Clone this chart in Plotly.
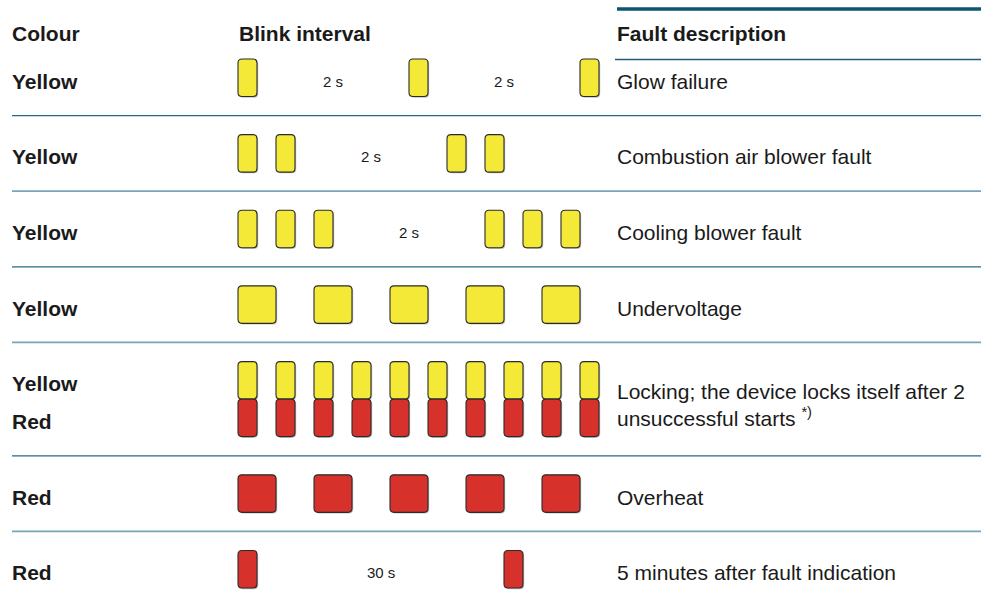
import plotly.graph_objects as go

# ---------------- data ----------------
headers = ["Colour", "Blink interval", "Fault description"]
row_colours = [["Yellow"], ["Yellow"], ["Yellow"], ["Yellow"], ["Yellow", "Red"], ["Red"], ["Red"]]
# blink start positions (in slots) and blink length (in slots) per row
blink_starts = [
    [0, 4.5, 9],
    [0, 1, 5.5, 6.5],
    [0, 1, 2, 6.5, 7.5, 8.5],
    [0, 2, 4, 6, 8],
    [0, 1, 2, 3, 4, 5, 6, 7, 8, 9],
    [0, 2, 4, 6, 8],
    [0, 7],
]
blink_lengths = [0.5, 0.5, 0.5, 1, 0.5, 1, 0.5]
pause_labels = [["2 s", "2 s"], ["2 s"], ["2 s"], [], [], [], ["30 s"]]
descriptions = [
    "Glow failure",
    "Combustion air blower fault",
    "Cooling blower fault",
    "Undervoltage",
    "Locking; the device locks itself after 2<br>unsuccessful starts <sup>*)</sup>",
    "Overheat",
    "5 minutes after fault indication",
]

# ---------------- styling / layout constants ----------------
W, H = 981, 600
FONT = "Liberation Sans, Arial, Helvetica, sans-serif"
TXT = "#1a1a1a"
FILL = {"Yellow": "#f3e936", "Red": "#d6322b"}
X_COLOUR, X_BLINK, X_DESC = 12, 238, 617
PAD = 2
SLOT = 38
BLOCK_H = 37.5
ROW_H = 75.6
TOP = 40
TEXT_DY = 3.5
LINE_DARK, LINE_LIGHT = "#2a6886", "#78a4b8"


def rrect(x0, y0, x1, y1, r=4):
    return (f"M {x0+r},{y0} L {x1-r},{y0} Q {x1},{y0} {x1},{y0+r} "
            f"L {x1},{y1-r} Q {x1},{y1} {x1-r},{y1} L {x0+r},{y1} "
            f"Q {x0},{y1} {x0},{y1-r} L {x0},{y0+r} Q {x0},{y0} {x0+r},{y0} Z")


shapes = []
annotations = []


def add_text(x, y, text, size=21, bold=False, xanchor="left"):
    annotations.append(dict(
        x=x - (PAD if xanchor == "left" else 0), y=y, xref="x", yref="y",
        text=f"<b>{text}</b>" if bold else text,
        showarrow=False, xanchor=xanchor, yanchor="middle", align="left",
        font=dict(family=FONT, size=size, color=TXT),
    ))


# header
add_text(X_COLOUR, 33, headers[0], bold=True)
add_text(X_BLINK + 1, 33, headers[1], bold=True)
add_text(X_DESC, 33, headers[2], bold=True)
shapes.append(dict(type="line", xref="x", yref="y", x0=X_DESC, x1=W, y0=9, y1=9,
                   line=dict(color="#0f5470", width=3.5)))
shapes.append(dict(type="line", xref="x", yref="y", x0=X_DESC - 2, x1=W, y0=59.5, y1=59.5,
                   line=dict(color="#1d5d78", width=1.3)))

# rows
y_top = TOP
for i, cols in enumerate(row_colours):
    n = len(cols)
    h = ROW_H * (1 + 0.5 * (n - 1))
    yc = y_top + h / 2
    blk_top = yc - n * BLOCK_H / 2
    length = blink_lengths[i]

    # colour labels
    for k, c in enumerate(cols):
        add_text(X_COLOUR, blk_top + (k + 0.5) * BLOCK_H + TEXT_DY, c, bold=True)

    # blinks
    for s in blink_starts[i]:
        x0 = X_BLINK + s * SLOT
        x1 = x0 + length * SLOT
        for k, c in enumerate(cols):
            y0 = blk_top + k * BLOCK_H
            y1 = y0 + BLOCK_H
            shapes.append(dict(type="path", xref="x", yref="y", path=rrect(x0 + 1.2, y0 + 1.2, x1 + 1.2, y1 + 1.2),
                               fillcolor="rgba(120,120,120,0.45)", line=dict(width=0), layer="above"))
            shapes.append(dict(type="path", xref="x", yref="y", path=rrect(x0, y0, x1, y1),
                               fillcolor=FILL[c], line=dict(color="#2b2b2b", width=1.1), layer="above"))

    # pause labels (centred in the long gaps)
    labels = list(pause_labels[i])
    starts = blink_starts[i]
    for a, b in zip(starts[:-1], starts[1:]):
        gap = b - (a + length)
        if gap > 1.5 and labels:
            xm = X_BLINK + ((a + length) + b) / 2 * SLOT
            add_text(xm, yc + TEXT_DY, labels.pop(0), size=15, xanchor="center")

    # description
    add_text(X_DESC, yc + TEXT_DY + (2 if n > 1 else 0), descriptions[i])

    y_top += h
    if i < len(row_colours) - 1:
        dark = (i % 2 == 0)
        shapes.append(dict(type="line", xref="x", yref="y", x0=X_COLOUR, x1=W, y0=y_top, y1=y_top,
                           line=dict(color=LINE_DARK if dark else LINE_LIGHT, width=1.3 if dark else 1.8)))

fig = go.Figure()
fig.add_trace(go.Scatter(x=[0, W], y=[0, H], mode="markers", marker=dict(opacity=0),
                         hoverinfo="skip", showlegend=False))
fig.update_layout(
    width=W, height=H, margin=dict(l=0, r=0, t=0, b=0),
    paper_bgcolor="white", plot_bgcolor="white", showlegend=False,
    xaxis=dict(range=[0, W], visible=False, fixedrange=True),
    yaxis=dict(range=[H, 0], visible=False, fixedrange=True),
    shapes=shapes, annotations=annotations,
)
fig.write_html("out.html", config={"displayModeBar": False},
               post_script="document.body.style.margin='0';document.body.style.overflow='hidden';")
